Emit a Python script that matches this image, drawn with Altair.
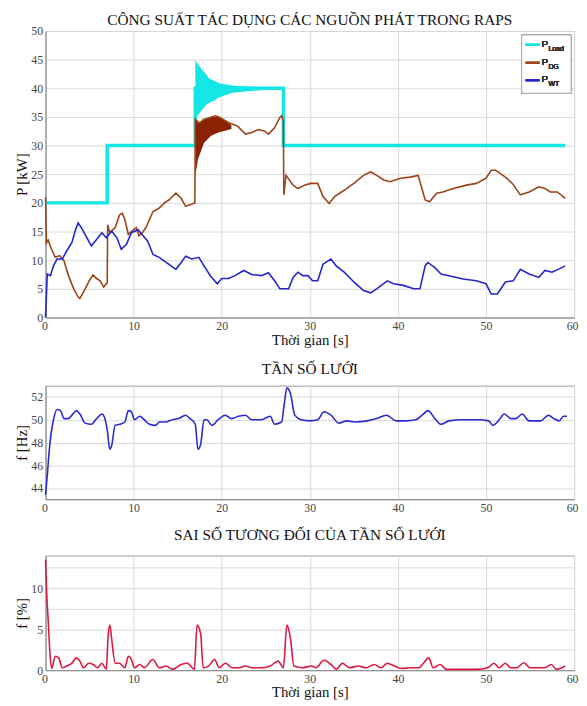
import altair as alt
import pandas as pd

FONT = "Liberation Serif"

# ---------------- top panel: active power ----------------
load_t = [0, 7, 7, 17, 17, 27, 27, 59]
load_p = [20, 20, 30, 30, 40, 40, 30, 30]

osc_t = [17.0, 17.4, 17.8, 18.3, 18.5, 19.3, 19.7, 21.2, 23.0, 25.0, 27.0]
osc_hi = [44.9, 44.0, 43.2, 42.3, 41.8, 41.2, 40.9, 40.5, 40.3, 40.2, 40.2]
osc_lo = [34.5, 35.5, 36.3, 37.2, 37.4, 38.0, 38.4, 39.2, 39.5, 39.7, 39.8]

dg_t = [0.0, 0.1, 0.3, 0.6, 1.1, 1.6, 2.1, 2.6, 3.2, 3.7, 3.9, 4.5, 5.0, 5.4, 5.8, 6.2, 6.6, 6.9, 7.0, 7.05,
        7.3, 7.9, 8.4, 8.7, 9.0, 9.4, 9.75, 10.3, 10.6, 11.0, 11.4, 12.2, 12.9, 13.5, 14.0, 14.8, 15.4, 15.9,
        16.5, 16.95, 17.0, 17.5, 17.9, 18.5, 19.3, 19.8, 20.8, 21.8, 22.7, 23.4, 24.2, 24.9, 25.3, 26.0, 26.6,
        26.8, 27.0, 27.05, 27.3, 28.1, 28.65, 29.4, 30.1, 30.9, 31.5, 32.2, 32.8, 33.9, 35.0, 36.1, 36.9, 37.6,
        38.4, 39.1, 40.3, 41.4, 42.3, 43.1, 43.6, 44.4, 45.1, 46.3, 47.8, 48.9, 50.0, 50.6, 51.1, 52.2, 53.0,
        53.9, 54.9, 56.0, 56.7, 57.3, 58.1, 59.0]
dg_p = [21.0, 13.0, 13.5, 12.2, 10.5, 10.8, 9.9, 7.3, 5.0, 3.6, 3.3, 5.0, 6.5, 7.4, 6.8, 6.4, 5.3, 5.9, 6.0, 16.2,
        14.8, 15.7, 17.9, 18.2, 17.1, 14.5, 15.0, 15.7, 14.3, 14.8, 15.7, 18.5, 19.1, 20.0, 20.5, 21.7, 20.8, 19.4,
        19.7, 20.0, 34.6, 33.9, 34.5, 34.8, 35.2, 34.9, 34.0, 33.4, 32.0, 32.3, 32.8, 32.5, 32.0, 33.1, 34.9,
        35.2, 34.3, 21.4, 24.8, 23.1, 22.5, 23.1, 23.4, 23.4, 21.1, 19.9, 21.1, 22.2, 23.4, 24.8, 25.4, 24.8,
        24.0, 23.7, 24.3, 24.5, 24.8, 20.5, 20.2, 21.7, 21.9, 22.5, 23.1, 23.4, 24.3, 25.7, 25.7, 24.5, 23.4,
        21.4, 21.9, 22.8, 22.5, 21.9, 21.9, 20.8]

dgband_t = [17.0, 17.3, 18.0, 18.8, 19.6, 20.4, 21.1]
dgband_lo = [24.6, 27.6, 30.5, 31.7, 32.3, 32.6, 32.9]
dgband_hi = [34.6, 34.0, 34.5, 35.0, 35.0, 34.3, 33.6]

wt_t = [0.0, 0.1, 0.2, 0.56, 0.9, 1.3, 1.9, 2.4, 3.0, 3.4, 3.7, 4.1, 4.7, 5.2, 5.8, 6.4, 6.9, 7.5, 8.1, 8.6,
        9.2, 9.75, 10.5, 11.0, 11.6, 12.2, 12.9, 13.7, 14.8, 15.4, 15.9, 16.6, 17.4, 18.0, 18.7, 19.5, 20.0,
        20.8, 21.5, 22.5, 23.4, 24.5, 25.3, 26.0, 26.6, 27.6, 28.1, 28.65, 29.2, 29.8, 30.3, 30.9, 31.5, 32.4,
        33.0, 33.9, 35.0, 36.1, 36.9, 37.6, 38.8, 39.5, 40.6, 41.8, 42.5, 43.1, 43.4, 44.2, 44.9, 45.8, 47.4,
        48.9, 50.0, 50.6, 51.3, 52.2, 53.1, 53.9, 54.9, 56.0, 56.7, 57.5, 58.2, 59.0]
wt_p = [0.0, 4.0, 7.6, 7.3, 9.0, 10.2, 10.2, 11.6, 13.1, 15.3, 16.5, 15.6, 13.9, 12.5, 13.6, 14.8, 13.9, 15.1,
        13.9, 11.9, 12.8, 14.8, 15.3, 14.4, 13.3, 11.0, 10.5, 9.6, 8.4, 9.6, 10.7, 10.2, 10.5, 9.0, 7.3, 5.9,
        6.8, 6.8, 7.3, 8.2, 7.5, 7.3, 7.8, 6.4, 5.0, 5.0, 7.0, 7.9, 7.3, 7.3, 6.4, 6.4, 9.3, 10.2, 9.0, 7.9,
        6.2, 4.7, 4.3, 5.0, 6.4, 5.9, 5.6, 5.0, 5.0, 9.0, 9.6, 8.7, 7.6, 7.3, 6.7, 6.4, 5.9, 4.1, 4.1, 6.2,
        6.4, 8.4, 7.6, 7.0, 8.2, 7.9, 8.4, 9.0]

# ---------------- middle panel: grid frequency ----------------
f_t = [0.0, 0.2, 0.4, 0.6, 0.9, 1.3, 1.7, 2.1, 2.6, 3.0, 3.5, 3.9, 4.5, 5.2, 5.8, 6.4, 6.7, 7.0, 7.3, 7.5,
       7.9, 8.4, 9.0, 9.4, 9.75, 10.1, 10.7, 11.2, 11.8, 12.5, 12.9, 13.6, 14.4, 15.1, 15.9, 16.4, 17.0, 17.3,
       17.6, 18.0, 18.3, 18.9, 19.6, 20.4, 21.1, 21.9, 22.7, 23.4, 24.5, 25.5, 26.0, 26.8, 27.1, 27.4, 27.8,
       28.3, 29.0, 30.0, 30.9, 31.6, 32.4, 33.3, 34.2, 35.3, 36.5, 37.6, 38.7, 39.8, 40.9, 42.0, 42.9, 43.4,
       44.2, 44.9, 45.8, 47.3, 49.2, 50.3, 50.8, 51.4, 52.1, 52.8, 53.4, 54.1, 54.9, 56.2, 57.1, 57.7, 58.3,
       58.8, 59.2]
f_v = [43.4, 45.1, 47.1, 48.6, 50.0, 50.9, 50.8, 50.1, 50.1, 50.4, 50.8, 50.5, 49.7, 49.6, 50.1, 50.5, 50.2,
       49.1, 47.4, 47.7, 49.5, 49.6, 49.8, 50.8, 50.7, 50.0, 50.3, 50.0, 49.6, 49.5, 49.8, 49.8, 50.0, 50.1,
       50.4, 50.1, 49.6, 47.4, 47.8, 50.0, 50.0, 49.5, 50.0, 50.4, 50.1, 50.3, 50.4, 50.0, 50.0, 50.3, 49.6,
       49.8, 51.4, 52.8, 52.3, 50.4, 50.0, 49.9, 50.0, 50.7, 50.4, 49.7, 49.9, 49.8, 49.9, 50.1, 50.4, 49.9,
       49.9, 50.0, 50.5, 50.8, 50.1, 49.6, 49.9, 50.0, 50.0, 49.9, 49.5, 49.9, 50.5, 50.1, 50.1, 50.5, 49.9,
       49.9, 50.4, 50.1, 49.9, 50.3, 50.3]

# ---------------- bottom panel: relative frequency error ----------------
e_t = [0.0, 0.1, 0.3, 0.5, 0.7, 1.1, 1.5, 1.9, 2.4, 3.0, 3.5, 3.9, 4.3, 4.9, 5.4, 5.9, 6.4, 6.9, 7.1, 7.3,
       7.5, 7.9, 8.4, 9.0, 9.4, 9.75, 10.1, 10.7, 11.2, 12.2, 12.9, 13.7, 14.4, 15.4, 16.1, 16.9, 17.2, 17.6,
       17.9, 18.5, 19.2, 19.7, 20.4, 21.2, 21.9, 22.7, 23.4, 24.6, 25.5, 26.4, 27.0, 27.4, 27.8, 28.2, 29.2,
       30.2, 30.7, 31.6, 32.4, 33.0, 33.7, 34.5, 35.5, 36.4, 37.3, 38.1, 38.8, 39.6, 40.5, 41.4, 42.4, 42.9,
       43.5, 44.0, 44.8, 45.5, 47.4, 48.9, 50.2, 50.9, 51.5, 52.2, 52.8, 53.5, 54.3, 55.0, 56.0, 56.7, 57.4,
       58.0, 59.0]
e_v = [13.5, 10.2, 6.1, 2.1, 0.2, 1.7, 1.5, 0.3, 0.5, 0.85, 1.5, 1.1, 0.3, 0.85, 0.7, 0.3, 0.85, 0.1, 4.1, 5.5,
       3.9, 0.85, 0.85, 0.3, 1.7, 1.3, 0.3, 0.7, 0.3, 1.3, 0.3, 0.5, 0.1, 0.7, 0.85, 0.1, 5.5, 4.5, 0.3, 0.5,
       1.3, 0.3, 0.85, 0.3, 0.3, 0.5, 0.3, 0.3, 0.5, 1.1, 0.3, 5.5, 3.9, 0.5, 0.3, 0.5, 0.3, 1.2, 0.7, 0.1,
       0.85, 0.3, 0.5, 0.3, 0.7, 0.3, 0.85, 0.5, 0.2, 0.3, 0.3, 0.85, 1.5, 0.3, 0.7, 0.1, 0.1, 0.1, 0.3, 0.85,
       0.3, 0.85, 0.3, 0.3, 0.9, 0.3, 0.3, 0.3, 0.7, 0.1, 0.5]

x_ticks = [0, 10, 20, 30, 40, 50, 60]
legend_names = ["Load", "DG", "WT"]

C_LOAD = "#14e6e6"
C_DG = "#9a4418"
C_DGBAND = "#8a2204"
C_WT = "#2424cc"
C_F = "#2a2ad0"
C_E = "#dc1840"

W = 535
H1, H2, H3 = 290, 115, 116


def xenc(title):
    ax = alt.Axis(values=x_ticks, grid=True, labelFlush=True, labelFlushOffset=4)
    sc = alt.Scale(domain=[0, 60], nice=False)
    if title:
        return alt.X("t:Q", scale=sc, axis=ax, title=title)
    return alt.X("t:Q", scale=sc, axis=ax, title=None)


XT = "Thời gian [s]"

# ---- top panel
load_df = pd.DataFrame({"t": load_t, "v": load_p})
osc_df = pd.DataFrame({"t": osc_t, "hi": osc_hi, "lo": osc_lo})
dg_df = pd.DataFrame({"t": dg_t, "v": dg_p})
dgb_df = pd.DataFrame({"t": dgband_t, "hi": dgband_hi, "lo": dgband_lo})
wt_df = pd.DataFrame({"t": wt_t, "v": wt_p})

y_sc1 = alt.Scale(domain=[0, 50], nice=False)
y_ax1 = alt.Axis(values=list(range(0, 51, 5)))
y1 = alt.Y("v:Q", scale=y_sc1, axis=y_ax1, title="P [kW]")
y1hi = alt.Y("hi:Q", scale=y_sc1, axis=y_ax1, title="P [kW]")

osc = alt.Chart(osc_df).mark_area(color=C_LOAD, opacity=1).encode(x=xenc(XT), y=y1hi, y2="lo:Q")
load = alt.Chart(load_df).mark_line(color=C_LOAD, strokeWidth=3.5).encode(x=xenc(XT), y=y1)
dgb = alt.Chart(dgb_df).mark_area(color=C_DGBAND, opacity=1).encode(x=xenc(XT), y=y1hi, y2="lo:Q")
dg = alt.Chart(dg_df).mark_line(color=C_DG, strokeWidth=1.6).encode(x=xenc(XT), y=y1)
wt = alt.Chart(wt_df).mark_line(color=C_WT, strokeWidth=1.6).encode(x=xenc(XT), y=y1)

# legend box (top-right inside the plot)
lx0, ly0, lw, lh = 482, 4, 50, 59
leg_layers = [
    alt.Chart(load_df).mark_rect(fill="white", stroke="#aaaaaa", strokeWidth=1).encode(
        x=alt.value(lx0), x2=alt.value(lx0 + lw), y=alt.value(ly0), y2=alt.value(ly0 + lh))
]
for i, (name, col) in enumerate(zip(legend_names, [C_LOAD, C_DG, C_WT])):
    yy = ly0 + 10 + i * 18
    leg_layers.append(alt.Chart(load_df).mark_rule(color=col, strokeWidth=2 if i == 0 else 1.5).encode(
        x=alt.value(lx0 + 4), x2=alt.value(lx0 + 18), y=alt.value(yy)))
    leg_layers.append(alt.Chart(load_df).mark_text(font="Liberation Sans", fontSize=10, align="left",
                                                   baseline="middle", color="#333").encode(
        x=alt.value(lx0 + 20), y=alt.value(yy - 1), text=alt.value("P")))
    leg_layers.append(alt.Chart(load_df).mark_text(font="Liberation Sans", fontSize=7, align="left",
                                                   baseline="middle", color="#333").encode(
        x=alt.value(lx0 + 27), y=alt.value(yy + 4), text=alt.value(name)))

top = alt.layer(osc, load, dgb, dg, wt, *leg_layers).properties(
    width=W, height=H1,
    title=alt.TitleParams("CÔNG SUẤT TÁC DỤNG CÁC NGUỒN PHÁT TRONG RAPS", offset=-3))

# ---- middle panel
f_df = pd.DataFrame({"t": f_t, "v": f_v})
mid = alt.Chart(f_df).mark_line(color=C_F, strokeWidth=1.6, interpolate="monotone").encode(
    x=xenc(None),
    y=alt.Y("v:Q", scale=alt.Scale(domain=[43, 53], nice=False),
            axis=alt.Axis(values=[44, 46, 48, 50, 52]), title="f [Hz]"),
).properties(width=W, height=H2, title=alt.TitleParams("TẦN SỐ LƯỚI", offset=7))

# ---- bottom panel
e_df = pd.DataFrame({"t": e_t, "v": e_v})
bot = alt.Chart(e_df).mark_line(color=C_E, strokeWidth=1.6, interpolate="monotone").encode(
    x=xenc(XT),
    y=alt.Y("v:Q", scale=alt.Scale(domain=[0, 14], nice=False),
            axis=alt.Axis(values=[0, 2.5, 5, 7.5, 10, 12.5],
                          labelExpr="datum.value % 5 == 0 ? datum.label : ''"),
            title="f [%]"),
).properties(width=W, height=H3, title=alt.TitleParams("SAI SỐ TƯƠNG ĐỐI CỦA TẦN SỐ LƯỚI", offset=12))

chart = alt.vconcat(top, mid, bot, spacing=14).properties(
    padding={"left": 6, "top": 0, "right": 0, "bottom": 0}
).configure_axis(
    labelFont=FONT, labelFontSize=12, labelColor="#444444",
    titleFont=FONT, titleFontSize=15, titleFontWeight="normal", titleColor="#111111",
    gridColor="#d8d8d8", domainColor="#888888", ticks=False, labelPadding=3, titlePadding=1,
).configure_title(
    font=FONT, fontSize=15.5, fontWeight="normal", color="#111111", anchor="middle"
).configure_view(stroke="#999999")

chart.save("out.html", embed_options={"renderer": "svg", "actions": False})
